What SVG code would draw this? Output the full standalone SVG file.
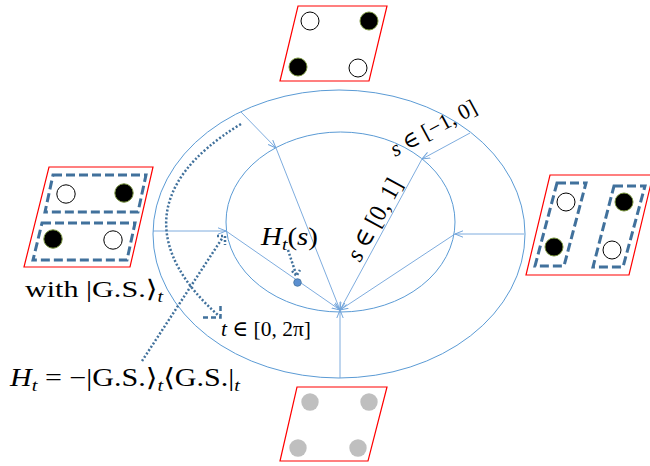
<svg xmlns="http://www.w3.org/2000/svg" width="650" height="466" viewBox="0 0 650 466">
<defs>
<style>
.ell{fill:none;stroke:#5b9bd5;stroke-width:1}
.cn{stroke:#6fa3da;stroke-width:0.9;fill:none}
.dot{stroke:#41719c;stroke-width:2.5;fill:none;stroke-dasharray:2 2}
.dash{stroke:#41719c;stroke-width:2.5;fill:none;stroke-dasharray:5 3}
.pg{fill:#fff;stroke:#ff0000;stroke-width:1.2}
.box{fill:none;stroke:#41719c;stroke-width:3;stroke-dasharray:9 4}
.op{fill:#fff;stroke:#000;stroke-width:1}
.fl{fill:#000;stroke:#77933c;stroke-width:1}
.gr{fill:#bfbfbf}
.t{font-family:"Liberation Serif","DejaVu Serif",serif;fill:#000}
.i{font-style:italic}
</style>
<marker id="ah" viewBox="0 0 10 10" refX="10" refY="5" markerWidth="8" markerHeight="8" markerUnits="userSpaceOnUse" orient="auto">
<path d="M0,1 L10,5 L0,9" fill="none" stroke="#6fa3da" stroke-width="1.2"/>
</marker>
</defs>

<g id="rings">
<ellipse class="ell" cx="339" cy="234" rx="186" ry="144"/>
<ellipse class="ell" cx="340.5" cy="222" rx="114.5" ry="90"/>
</g>

<g id="connectors">
<line class="cn" x1="241" y1="112" x2="276" y2="148" marker-end="url(#ah)"/>
<line class="cn" x1="276" y1="148" x2="340" y2="310" marker-end="url(#ah)"/>
<line class="cn" x1="153" y1="231" x2="226" y2="231" marker-end="url(#ah)"/>
<line class="cn" x1="226" y1="231" x2="340" y2="310" marker-end="url(#ah)"/>
<line class="cn" x1="524" y1="234" x2="455" y2="234" marker-end="url(#ah)"/>
<line class="cn" x1="455" y1="234" x2="340" y2="310" marker-end="url(#ah)"/>
<line class="cn" x1="470" y1="133" x2="422" y2="159" marker-end="url(#ah)"/>
<line class="cn" x1="422" y1="159" x2="340" y2="310" marker-end="url(#ah)"/>
<line class="cn" x1="340" y1="378" x2="340" y2="310" marker-end="url(#ah)"/>
<path class="dot" d="M241,124 C140,185 150,255 219,316"/>
<path class="dash" d="M203,317.5 L220.5,317.5 L220.5,303"/>
<path class="dot" d="M142,361 L223,237"/>
<path class="dot" d="M217,236 L225,236 L225,245"/>
<path class="dot" d="M288,250 L296,274"/>
<path class="dot" d="M292,271 L296.5,276 L300,270"/>
</g>

<g id="point">
<circle cx="297.5" cy="282.5" r="3.8" fill="#5b8fd0" stroke="#41719c" stroke-width="0.8"/>
</g>

<g id="top-state">
<polygon class="pg" points="298,6 387,6 369,81 280,81"/>
<circle class="op" cx="310" cy="21" r="9"/>
<circle class="fl" cx="369" cy="21" r="9"/>
<circle class="fl" cx="298" cy="67" r="9"/>
<circle class="op" cx="358" cy="68" r="9"/>
</g>

<g id="bottom-state">
<polygon class="pg" points="297,387 387,387 368,461 280,461"/>
<circle class="gr" cx="310" cy="402" r="8.7"/>
<circle class="gr" cx="369" cy="402" r="8.7"/>
<circle class="gr" cx="298" cy="448" r="8.7"/>
<circle class="gr" cx="358" cy="448" r="8.7"/>
</g>

<g id="left-state">
<polygon class="pg" points="49,167 153,167 130,267 24,267"/>
<polygon class="box" points="53,175 146,175 138,212 45,212"/>
<polygon class="box" points="42,223 135,223 127,260 33,260"/>
<circle class="op" cx="66" cy="194" r="9.2"/>
<circle class="fl" cx="124" cy="193" r="9.2"/>
<circle class="fl" cx="53" cy="239" r="9.2"/>
<circle class="op" cx="113" cy="240" r="9.2"/>
</g>

<g id="right-state">
<polygon class="pg" points="550,175 653,175 629,275 526,275"/>
<polygon class="box" points="557,183 586,183 564,266 535,266"/>
<polygon class="box" points="614,186 645,186 623,267 593,267"/>
<circle class="op" cx="566" cy="202" r="9"/>
<circle class="fl" cx="554" cy="247" r="9"/>
<circle class="fl" cx="624" cy="202" r="9"/>
<circle class="op" cx="612" cy="250" r="9"/>
</g>

<g id="labels">
<text class="t" x="261" y="245" font-size="25" textLength="57" lengthAdjust="spacingAndGlyphs"><tspan class="i">H</tspan><tspan class="i" font-size="17" dy="5">t</tspan><tspan dy="-5">(</tspan><tspan class="i">s</tspan>)</text>
<text class="t" x="221" y="336" font-size="22" textLength="90" lengthAdjust="spacingAndGlyphs"><tspan class="i">t</tspan> ∈ [0, 2π]</text>
<text class="t" transform="translate(360,263) rotate(-61.4)" font-size="25" textLength="90" lengthAdjust="spacingAndGlyphs"><tspan class="i">s</tspan> ∈ [0, 1]</text>
<text class="t" transform="translate(395,157) rotate(-28.4)" font-size="22" textLength="95" lengthAdjust="spacingAndGlyphs"><tspan class="i">s</tspan> ∈ [−1, 0]</text>
<text class="t" x="25" y="297" font-size="24" textLength="138" lengthAdjust="spacingAndGlyphs">with |G.S.⟩<tspan class="i" font-size="16" dy="5">t</tspan></text>
<text class="t" x="10" y="386" font-size="25" textLength="230" lengthAdjust="spacingAndGlyphs"><tspan class="i">H</tspan><tspan class="i" font-size="17" dy="5">t</tspan><tspan dy="-5"> = −|G.S.⟩</tspan><tspan class="i" font-size="17" dy="5">t</tspan><tspan dy="-5">⟨G.S.|</tspan><tspan class="i" font-size="17" dy="5">t</tspan></text>
</g>
</svg>
